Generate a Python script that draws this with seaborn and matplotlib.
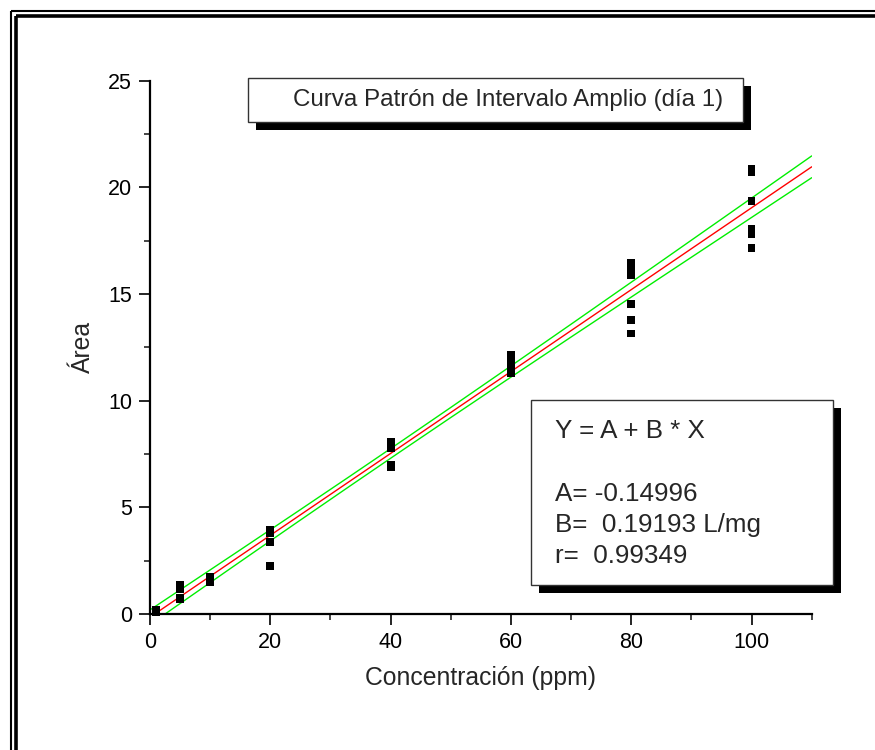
import numpy as np
import pandas as pd
import matplotlib
matplotlib.use('Agg')
import matplotlib.pyplot as plt
from matplotlib.patches import Rectangle
from matplotlib.lines import Line2D
from matplotlib.ticker import MultipleLocator
import seaborn as sns

# datos (6 replicas por concentracion)
conc = [1] * 6 + [5] * 6 + [10] * 6 + [20] * 6 + [40] * 6 + [60] * 6 + [80] * 6 + [100] * 6
area = [0.18, 0.15, 0.12, 0.10, 0.08, 0.14,
        1.35, 1.30, 1.20, 1.15, 0.75, 0.70,
        1.75, 1.70, 1.65, 1.60, 1.55, 1.50,
        3.95, 3.85, 3.80, 3.40, 3.35, 2.25,
        8.05, 8.00, 7.85, 7.80, 7.00, 6.90,
        12.15, 12.00, 11.90, 11.70, 11.50, 11.30,
        16.45, 16.10, 15.90, 14.55, 13.80, 13.15,
        20.85, 20.70, 19.35, 18.05, 17.80, 17.15]

A = -0.14996
B = 0.19193
r = 0.99349
t_crit = 2.01

titulo = 'Curva Patrón de Intervalo Amplio (día 1)'
ecuacion = ['Y = A + B * X', '', 'A= %.5f' % A, 'B=  %.5f L/mg' % B, 'r=  %.5f' % r]

df = pd.DataFrame({'conc': conc, 'area': area})

# recta y limites de confianza del 95 %
x = np.array(conc, dtype=float)
y = np.array(area)
n = len(x)
res = y - (A + B * x)
s = np.sqrt(np.sum(res ** 2) / (n - 2))
sxx = np.sum((x - x.mean()) ** 2)
xs = np.linspace(0, 110, 200)
yfit = A + B * xs
half = t_crit * s * np.sqrt(1.0 / n + (xs - x.mean()) ** 2 / sxx)
df_fit = pd.DataFrame({'x': xs, 'fit': yfit, 'up': yfit + half, 'lo': yfit - half})

sns.set_style('ticks')
plt.rcParams['font.family'] = ['Liberation Sans', 'DejaVu Sans']

W, H = 875, 750
fig = plt.figure(figsize=(W / 100, H / 100), dpi=100)
ax = fig.add_axes([150 / W, (H - 614) / H, 661.7 / W, 533.3 / H])

sns.lineplot(data=df_fit, x='x', y='up', ax=ax, color='#00ee00', lw=1, zorder=2)
sns.lineplot(data=df_fit, x='x', y='lo', ax=ax, color='#00ee00', lw=1, zorder=2)
sns.lineplot(data=df_fit, x='x', y='fit', ax=ax, color='#ff0000', lw=1, zorder=2)
sns.scatterplot(data=df, x='conc', y='area', ax=ax, marker='s', s=32, color='black',
                edgecolor='none', clip_on=False, zorder=3)

ax.set_xlim(0, 110)
ax.set_ylim(0, 25)
ax.xaxis.set_major_locator(MultipleLocator(20))
ax.xaxis.set_minor_locator(MultipleLocator(10))
ax.yaxis.set_major_locator(MultipleLocator(5))
ax.yaxis.set_minor_locator(MultipleLocator(2.5))
sns.despine(ax=ax)
for sp in ['left', 'bottom']:
    ax.spines[sp].set_linewidth(1.6)
    ax.spines[sp].set_color('black')
ax.tick_params(which='major', length=8, width=1.2, direction='out', labelsize=15.5, colors='black', pad=5)
ax.tick_params(which='minor', length=4.5, width=1.2, direction='out')
ax.set_xlabel('Concentración (ppm)', fontsize=17.8, labelpad=9)
ax.set_ylabel('Área', fontsize=17.8, labelpad=9)


def px(x0, y0, x1, y1):
    return (x0 / W, 1 - y1 / H), (x1 - x0) / W, (y1 - y0) / H


def caja(x0, y0, x1, y1, off):
    xy, w, h = px(x0 + off, y0 + off, x1 + off, y1 + off)
    fig.add_artist(Rectangle(xy, w, h, transform=fig.transFigure, facecolor='black',
                             edgecolor='none', zorder=5))
    xy, w, h = px(x0, y0, x1, y1)
    fig.add_artist(Rectangle(xy, w, h, transform=fig.transFigure, facecolor='white',
                             edgecolor='#333333', lw=1, zorder=6))


caja(248, 78, 743, 122, 8)
fig.text(508 / W, 1 - 100 / H, titulo, ha='center', va='center', fontsize=17.4, zorder=7)

caja(531, 400, 833, 585, 8)
for i, linea in enumerate(ecuacion):
    yy = [431, 462, 494, 525, 556][i]
    fig.text(555 / W, 1 - yy / H, linea, ha='left', va='center', fontsize=18.7, zorder=7)

# marco doble (lado derecho e inferior fuera de la imagen)
for pos, lw in [(10.5, 1.5), (15.5, 2.6)]:
    fig.add_artist(Line2D([pos / W, pos / W], [1 - pos / H, -0.1], transform=fig.transFigure,
                          color='black', lw=lw, solid_capstyle='butt'))
    fig.add_artist(Line2D([pos / W, 1.1], [1 - pos / H, 1 - pos / H], transform=fig.transFigure,
                          color='black', lw=lw, solid_capstyle='butt'))

plt.savefig('out.png', dpi=100)
